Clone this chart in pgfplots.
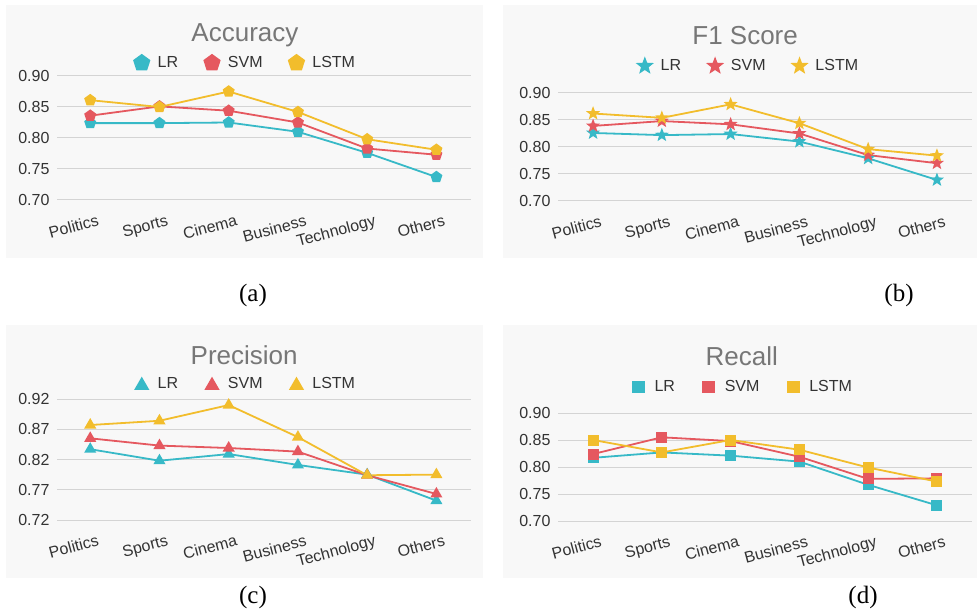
\documentclass[border=0pt]{standalone}
\usepackage{fontspec}
\setmainfont{Liberation Sans}
\newfontfamily\seriffont{Liberation Serif}
\usepackage{pgfplots}
\pgfplotsset{compat=1.18}
\usetikzlibrary{plotmarks}
\definecolor{cLR}{HTML}{37B9C7}
\definecolor{cSVM}{HTML}{E5585F}
\definecolor{cLSTM}{HTML}{F2BD2C}
\definecolor{bgc}{HTML}{F8F8F8}
\definecolor{gridc}{HTML}{D4D4D4}
\definecolor{titlec}{HTML}{777777}
\definecolor{tickc}{HTML}{333333}
\pgfdeclareplotmark{fstar}{%
  \pgfpathmoveto{\pgfpointpolar{90}{\pgfplotmarksize}}%
  \pgfpathlineto{\pgfpointpolar{126}{0.42\pgfplotmarksize}}%
  \pgfpathlineto{\pgfpointpolar{162}{\pgfplotmarksize}}%
  \pgfpathlineto{\pgfpointpolar{198}{0.42\pgfplotmarksize}}%
  \pgfpathlineto{\pgfpointpolar{234}{\pgfplotmarksize}}%
  \pgfpathlineto{\pgfpointpolar{270}{0.42\pgfplotmarksize}}%
  \pgfpathlineto{\pgfpointpolar{306}{\pgfplotmarksize}}%
  \pgfpathlineto{\pgfpointpolar{342}{0.42\pgfplotmarksize}}%
  \pgfpathlineto{\pgfpointpolar{18}{\pgfplotmarksize}}%
  \pgfpathlineto{\pgfpointpolar{54}{0.42\pgfplotmarksize}}%
  \pgfpathclose\pgfusepathqfillstroke}
\pgfplotsset{
  panel/.style={
    scale only axis, width=414pt,
    axis lines*=left, axis line style={draw=none}, tick style={draw=none},
    major tick length=0pt,
    ymajorgrids, grid style={draw=gridc, line width=1pt},
    xtick={0,1,2,3,4,5},
    xticklabels={Politics,Sports,Cinema,Business,Technology,Others},
    tick label style={font=\fontsize{16}{19}\selectfont, text=tickc},
    xticklabel style={rotate=15, anchor=north east, xshift=6pt, yshift=-12pt},
    yticklabel style={xshift=-4pt},
    /pgf/number format/assume math mode=true,
    yticklabel={\pgfmathprintnumber[fixed,fixed zerofill,precision=2]{\tick}},
    title style={font=\fontsize{26}{30}\selectfont, text=titlec, anchor=center, yshift=-9pt},
    legend columns=3,
    legend style={draw=none, fill=none, anchor=center,
      font=\fontsize{16}{19}\selectfont, text=tickc,
      /tikz/every even column/.append style={column sep=23pt}},
    every axis plot/.append style={line width=1.8pt},
  },
  sLR/.style={color=cLR},
  sSVM/.style={color=cSVM},
  sLSTM/.style={color=cLSTM},
}
\begin{document}
\begin{tikzpicture}
\useasboundingbox (0,0) rectangle (977pt,611pt);
\fill[white] (0,0) rectangle (977pt,611pt);
\fill[bgc] (6pt,353pt) rectangle (483pt,606pt);
\fill[bgc] (503pt,353pt) rectangle (977pt,606pt);
\fill[bgc] (6pt,33pt) rectangle (483pt,286pt);
\fill[bgc] (503pt,33pt) rectangle (977pt,286pt);
\node[font=\seriffont\fontsize{25}{29}\selectfont] at (253pt,316pt) {(a)};
\node[font=\seriffont\fontsize{25}{29}\selectfont] at (899pt,316pt) {(b)};
\node[font=\seriffont\fontsize{25}{29}\selectfont] at (253pt,14pt) {(c)};
\node[font=\seriffont\fontsize{25}{29}\selectfont] at (863pt,14pt) {(d)};

% (a) Accuracy
\begin{axis}[panel, at={(57pt,411pt)}, anchor=south west, height=124pt,
  xmin=-0.48, xmax=5.5, ymin=0.70, ymax=0.90,
  ytick={0.70,0.75,0.80,0.85,0.90},
  title={Accuracy}, title style={at={(axis description cs:0.454,1.355)}},
  legend style={at={(axis description cs:0.454,1.105)}},
  legend image code/.code={\path (-8pt,0pt) (13pt,0pt); \path[#1, mark size=8pt] plot coordinates {(0pt,0pt)};},
  mark size=5.2pt]
\addplot[sLR, mark=pentagon*] coordinates {(0,0.824) (1,0.824) (2,0.825) (3,0.810) (4,0.776) (5,0.737)};
\addplot[sSVM, mark=pentagon*] coordinates {(0,0.836) (1,0.851) (2,0.844) (3,0.825) (4,0.783) (5,0.773)};
\addplot[sLSTM, mark=pentagon*] coordinates {(0,0.861) (1,0.850) (2,0.875) (3,0.842) (4,0.798) (5,0.781)};
\legend{LR,SVM,LSTM}
\end{axis}

% (b) F1 Score
\begin{axis}[panel, at={(558pt,410pt)}, anchor=south west, height=108pt,
  xmin=-0.51, xmax=5.51, ymin=0.70, ymax=0.90,
  ytick={0.70,0.75,0.80,0.85,0.90},
  title={F1 Score}, title style={at={(axis description cs:0.452,1.556)}},
  legend style={at={(axis description cs:0.459,1.25)}},
  legend image code/.code={\path (-8pt,0pt) (13pt,0pt); \path[#1, mark size=7pt] plot coordinates {(0pt,0pt)};},
  mark size=4.8pt]
\addplot[sLR, mark=fstar] coordinates {(0,0.826) (1,0.822) (2,0.824) (3,0.810) (4,0.779) (5,0.739)};
\addplot[sSVM, mark=fstar] coordinates {(0,0.839) (1,0.848) (2,0.842) (3,0.825) (4,0.785) (5,0.770)};
\addplot[sLSTM, mark=fstar] coordinates {(0,0.862) (1,0.854) (2,0.879) (3,0.844) (4,0.796) (5,0.784)};
\legend{LR,SVM,LSTM}
\end{axis}

% (c) Precision
\begin{axis}[panel, at={(57pt,91pt)}, anchor=south west, height=121pt,
  xmin=-0.48, xmax=5.5, ymin=0.72, ymax=0.92,
  ytick={0.72,0.77,0.82,0.87,0.92},
  title={Precision}, title style={at={(axis description cs:0.452,1.388)}},
  legend style={at={(axis description cs:0.454,1.124)}},
  legend image code/.code={\path (-8pt,0pt) (13pt,0pt); \path[#1, mark size=7pt] plot coordinates {(0pt,-1.5pt)};},
  mark size=5.2pt]
\addplot[sLR, mark=triangle*] coordinates {(0,0.837) (1,0.818) (2,0.829) (3,0.811) (4,0.795) (5,0.752)};
\addplot[sSVM, mark=triangle*] coordinates {(0,0.855) (1,0.843) (2,0.839) (3,0.833) (4,0.794) (5,0.763)};
\addplot[sLSTM, mark=triangle*] coordinates {(0,0.877) (1,0.884) (2,0.910) (3,0.857) (4,0.794) (5,0.795)};
\legend{LR,SVM,LSTM}
\end{axis}

% (d) Recall
\begin{axis}[panel, at={(558pt,90pt)}, anchor=south west, height=108pt,
  xmin=-0.51, xmax=5.51, ymin=0.70, ymax=0.90,
  ytick={0.70,0.75,0.80,0.85,0.90},
  title={Recall}, title style={at={(axis description cs:0.444,1.556)}},
  legend style={at={(axis description cs:0.444,1.24)}},
  legend image code/.code={\path (-8pt,0pt) (13pt,0pt); \path[#1, mark size=5.5pt] plot coordinates {(0pt,0pt)};},
  mark size=4.6pt]
\addplot[sLR, mark=square*] coordinates {(0,0.817) (1,0.827) (2,0.821) (3,0.810) (4,0.767) (5,0.729)};
\addplot[sSVM, mark=square*] coordinates {(0,0.824) (1,0.855) (2,0.848) (3,0.819) (4,0.778) (5,0.779)};
\addplot[sLSTM, mark=square*] coordinates {(0,0.850) (1,0.827) (2,0.850) (3,0.832) (4,0.799) (5,0.773)};
\legend{LR,SVM,LSTM}
\end{axis}
\end{tikzpicture}
\end{document}
